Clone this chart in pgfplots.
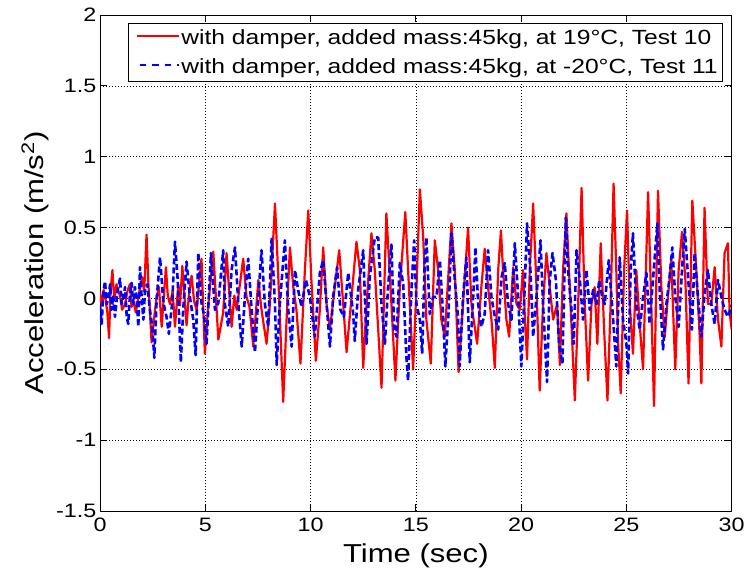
\documentclass[border=0pt]{standalone}
\usepackage{fontspec}
\setmainfont{Liberation Sans}[FakeStretch=1.2]
\usepackage{pgfplots}
\pgfplotsset{compat=1.18}
\begin{document}
\begin{tikzpicture}
\begin{axis}[
  name=ax,
  scale only axis, width=631.7bp, height=496bp,
  xmin=0, xmax=30, ymin=-1.5, ymax=2,
  xtick={0,5,10,15,20,25,30},
  ytick={-1.5,-1,-0.5,0,0.5,1,1.5,2},
  tick align=inside, tick pos=both, major tick length=7bp,
  grid=major,
  major grid style={black, line width=0.6bp, dash pattern=on 0.8bp off 2.2bp},
  axis line style={black, line width=0.8bp},
  every tick/.style={black, line width=0.8bp},
  /pgf/number format/assume math mode=true,
  tick label style={font=\fontsize{19.5}{22}\selectfont},
  xticklabel style={inner sep=0pt, yshift=-7bp},
  yticklabel style={inner sep=0pt, xshift=-3.5bp},
  label style={font=\fontsize{26}{30}\selectfont},
  xlabel={Time (sec)},
  ylabel={Acceleration (m/s\textsuperscript{2})},
  xlabel style={at={(axis description cs:0.5,-0.1042)}, anchor=base},
  ylabel style={at={(axis description cs:-0.0902,0.5)}, anchor=base},
  legend cell align=left,
  legend style={at={(0.9862,0.9845)}, anchor=north east, draw=black, line width=0.6bp,
    font=\fontsize{20.6}{24}\selectfont, inner xsep=3bp, inner ysep=4.5bp, row sep=9bp},
]
\addplot[red, line width=2.2bp, line join=round,
  legend image code/.code={\path (0bp,0bp); \fill[red, draw=none] (4.7bp,1.1bp) rectangle (46.4bp,2.9bp);}] coordinates {
(0.0,0.05)(0.05,-0.02)(0.1,-0.05)(0.17,0.06)(0.24,0.02)(0.35,-0.1)(0.43,-0.28)(0.5,0.05)(0.59,0.2)(0.65,0.05)(0.7,0.0)
(0.78,0.1)(0.85,0.06)(0.95,0.02)(1.05,-0.08)(1.19,-0.04)(1.3,0.05)(1.42,0.1)(1.5,-0.06)(1.6,-0.02)(1.7,-0.1)(1.82,0.01)
(2.0,0.15)(2.1,0.05)(2.21,0.45)(2.3,0.1)(2.45,-0.31)(2.6,-0.1)(2.69,0.01)(2.8,0.08)(2.93,-0.2)(3.13,0.22)(3.22,0.02)(3.32,-0.04)
(3.45,0.05)(3.56,-0.2)(3.72,0.1)(3.8,-0.05)(3.91,0.23)(4.11,-0.19)(4.22,0.02)(4.35,0.16)(4.47,-0.02)(4.59,-0.08)
(4.82,0.28)(4.98,-0.39)(5.14,-0.05)(5.38,0.33)(5.62,-0.29)(5.85,-0.1)(6.01,0.32)(6.25,-0.2)(6.38,0.02)(6.49,-0.08)(6.8,0.28)
(6.96,0.01)(7.1,-0.06)(7.28,-0.34)(7.52,0.13)(7.67,-0.08)(7.91,-0.32)(8.07,-0.04)(8.31,0.67)(8.46,0.18)(8.70,-0.73)(8.86,-0.15)
(9.02,0.36)(9.18,0.08)(9.33,-0.08)(9.52,-0.46)(9.73,0.2)(9.89,0.62)(10.04,0.13)(10.25,-0.44)(10.44,-0.08)(10.60,0.36)
(10.76,-0.04)(10.92,-0.22)(11.15,0.08)(11.36,0.34)(11.55,-0.04)(11.71,-0.38)(11.94,0.0)(12.18,0.4)(12.34,0.2)(12.5,-0.49)
(12.66,-0.04)(12.89,0.46)(13.05,0.2)(13.37,-0.63)(13.6,0.6)(13.84,-0.04)(14.03,-0.58)(14.24,0.08)(14.5,0.61)(14.71,-0.04)
(14.87,-0.5)(15.03,0.08)(15.19,0.77)(15.35,0.43)(15.5,-0.15)(15.71,-0.46)(15.9,0.41)(16.06,0.2)(16.21,-0.15)(16.37,-0.27)
(16.69,0.53)(16.85,0.2)(17.03,-0.52)(17.24,-0.04)(17.48,0.5)(17.64,-0.04)(17.91,-0.32)(18.11,0.08)(18.27,0.35)(18.43,0.08)
(18.59,-0.15)(18.75,-0.49)(18.91,0.2)(19.04,0.48)(19.14,0.2)(19.3,-0.15)(19.43,-0.27)(19.62,0.22)(19.78,-0.04)(19.94,-0.08)
(20.09,0.2)(20.17,-0.11)(20.28,-0.43)(20.41,0.2)(20.57,0.67)(20.73,0.08)(20.88,-0.65)(21.04,-0.04)(21.2,0.32)(21.36,0.08)
(21.52,-0.15)(21.71,-0.04)(21.84,-0.47)(21.99,0.2)(22.15,0.6)(22.31,0.08)(22.55,-0.72)(22.71,-0.04)(22.87,0.78)(23.02,-0.04)
(23.18,-0.58)(23.34,-0.04)(23.49,0.08)(23.62,-0.32)(23.78,0.39)(23.94,-0.22)(24.1,-0.72)(24.25,-0.04)(24.39,0.81)(24.52,0.2)
(24.6,-0.3)(24.73,-0.67)(24.89,0.2)(25.03,0.62)(25.16,-0.04)(25.31,-0.39)(25.47,0.2)(25.63,-0.18)(25.79,-0.5)(26.03,0.75)
(26.18,-0.04)(26.31,-0.76)(26.5,0.76)(26.66,0.08)(26.82,-0.27)(26.97,0.01)(27.13,0.27)(27.32,-0.5)(27.48,0.2)(27.64,0.47)
(27.8,0.13)(27.95,-0.6)(28.13,0.69)(28.32,0.2)(28.48,-0.27)(28.56,-0.6)(28.71,0.64)(28.87,-0.04)(29.03,-0.04)(29.19,0.22)
(29.35,-0.15)(29.51,-0.34)(29.66,0.32)(29.82,0.39)(29.9,-0.1)(30.0,-0.22)
};
\addlegendentry{with damper, added mass:45kg, at 19\textdegree C, Test 10}
\addplot[blue, line width=2.6bp, dash pattern=on 6bp off 3bp, line join=round,
  legend image code/.code={\path (0bp,0bp); \draw[blue, line width=1.5bp, dash pattern=on 6.5bp off 6bp] (7.5bp,2bp) -- (46.4bp,2bp);}] coordinates {
(0.0,-0.05)(0.08,-0.18)(0.16,0.05)(0.24,0.12)(0.32,-0.04)(0.4,0.0)(0.48,0.1)(0.55,-0.08)(0.63,0.02)(0.71,-0.13)(0.83,0.05)(0.95,0.14)
(1.03,-0.04)(1.11,0.01)(1.19,0.08)(1.27,-0.13)(1.34,-0.18)(1.42,0.02)(1.5,0.11)(1.58,-0.04)(1.66,0.08)(1.74,0.0)(1.82,-0.2)(1.9,0.22)
(1.98,0.0)(2.06,-0.15)(2.14,0.06)(2.25,0.1)(2.37,-0.08)(2.48,-0.2)(2.58,-0.42)(2.69,-0.01)(2.85,0.29)
(3.01,-0.03)(3.16,-0.13)(3.27,-0.25)(3.43,-0.03)(3.56,0.4)(3.69,0.13)(3.84,-0.45)(3.95,-0.08)(4.11,0.26)(4.27,0.01)
(4.43,-0.15)(4.54,-0.4)(4.67,0.32)(4.82,-0.03)(4.94,-0.12)(5.06,-0.32)(5.27,0.32)(5.46,-0.08)(5.62,-0.03)(5.85,0.34)(5.93,-0.04)
(6.09,-0.2)(6.25,0.2)(6.41,0.36)(6.57,-0.04)(6.73,-0.34)(6.88,0.01)(7.04,0.28)(7.2,-0.08)(7.36,-0.38)(7.52,0.01)
(7.67,0.34)(7.83,-0.04)(7.99,-0.2)(8.15,0.42)(8.31,-0.04)(8.39,-0.47)(8.54,-0.04)(8.78,0.41)(8.94,-0.08)(9.1,-0.34)
(9.26,0.2)(9.41,0.06)(9.57,-0.06)(9.78,0.13)(9.97,0.01)(10.2,-0.27)(10.44,0.18)(10.6,0.27)(10.76,-0.04)(10.92,-0.34)
(11.07,0.01)(11.26,0.22)(11.42,-0.08)(11.58,-0.13)(11.79,0.18)(12.02,-0.1)(12.1,-0.3)(12.26,0.06)(12.5,0.34)(12.66,-0.32)
(12.81,0.15)(13.05,0.43)(13.21,0.43)(13.37,-0.04)(13.53,-0.32)(13.68,0.08)(13.84,0.38)(13.97,-0.22)(14.08,-0.27)(14.24,0.25)
(14.4,0.1)(14.55,-0.41)(14.63,-0.58)(14.79,0.06)(14.92,0.41)(15.03,-0.04)(15.19,-0.15)(15.3,-0.39)(15.42,0.25)(15.5,0.43)
(15.66,-0.11)(15.82,0.01)(15.98,0.01)(16.14,0.27)(16.29,-0.11)(16.4,-0.48)(16.56,-0.08)(16.69,0.46)(16.85,0.13)(17.0,-0.13)
(17.08,-0.48)(17.24,0.01)(17.4,0.29)(17.56,-0.45)(17.72,0.0)(17.83,0.36)(17.96,-0.04)(18.11,-0.2)(18.27,-0.11)(18.43,0.34)
(18.59,0.01)(18.75,-0.13)(18.91,-0.22)(19.07,0.15)(19.22,0.25)(19.38,-0.04)(19.54,-0.15)(19.7,0.39)(19.86,0.01)(20.01,-0.48)
(20.17,0.08)(20.28,0.53)(20.44,0.2)(20.57,-0.27)(20.73,0.01)(20.92,0.41)(21.04,-0.04)(21.23,-0.59)(21.36,0.13)(21.49,0.32)
(21.65,0.13)(21.8,-0.32)(21.96,-0.46)(22.12,0.57)(22.23,0.2)(22.39,-0.08)(22.5,-0.32)(22.63,0.34)(22.79,0.13)(22.94,-0.15)
(23.1,0.2)(23.26,-0.08)(23.42,0.06)(23.58,-0.04)(23.71,0.13)(23.84,0.02)(23.97,-0.04)(24.16,0.27)(24.37,-0.15)(24.52,-0.48)(24.68,0.29)
(24.84,-0.15)(25.0,-0.32)(25.08,-0.53)(25.2,0.2)(25.31,0.46)(25.47,-0.04)(25.63,-0.22)(25.79,0.01)(25.95,0.18)(26.1,-0.18)
(26.26,0.13)(26.47,0.53)(26.58,0.06)(26.74,-0.36)(26.9,-0.04)(27.05,0.15)(27.18,0.36)(27.32,0.01)(27.48,-0.2)(27.64,0.2)
(27.77,0.49)(27.96,0.08)(28.11,-0.22)(28.24,0.32)(28.4,0.01)(28.56,-0.27)(28.71,0.03)(28.87,0.2)(29.03,-0.04)(29.19,-0.18)
(29.35,0.13)(29.51,0.01)(29.66,-0.08)(29.82,-0.13)(30.0,-0.05)
};
\addlegendentry{with damper, added mass:45kg, at -20\textdegree C, Test 11}
\end{axis}
\pgfresetboundingbox
\useasboundingbox ([shift={(-100bp,-64bp)}]ax.south west) rectangle ([shift={(15.3bp,15bp)}]ax.north east);
\end{tikzpicture}
\end{document}
